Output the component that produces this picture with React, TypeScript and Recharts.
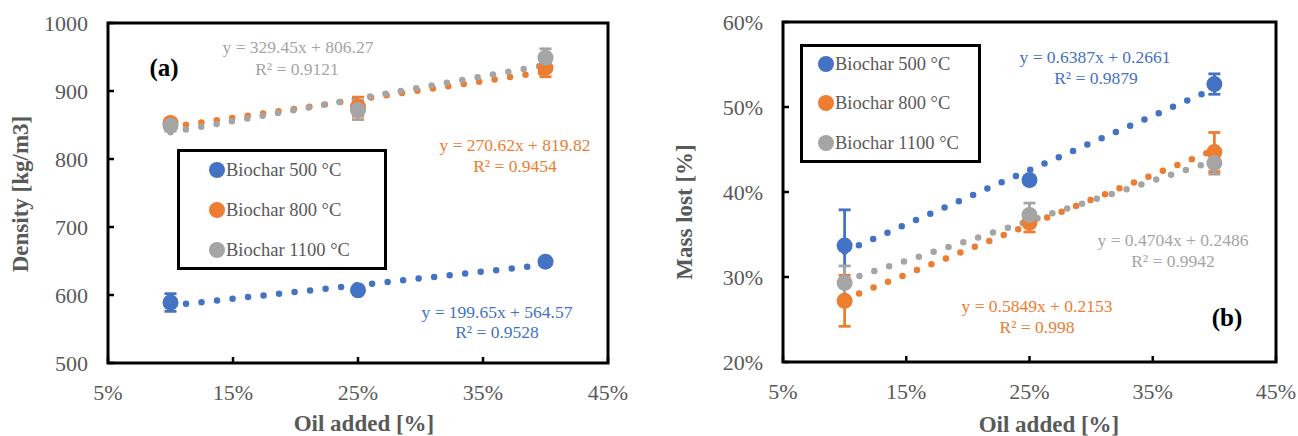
import React from 'react';
import {
  ComposedChart, Scatter, Line, XAxis, YAxis, ErrorBar, ReferenceArea, Legend,
} from 'recharts';

const BLUE = '#4472C4';
const ORANGE = '#ED7D31';
const GRAY = '#A5A5A5';
const TEXT = '#595959';
const FONT = '"Liberation Serif", "Times New Roman", serif';

// ---------- shared ----------
const xTicks = [5, 15, 25, 35, 45];
const seriesNames = ['Biochar 500 °C', 'Biochar 800 °C', 'Biochar 1100 °C'];
const seriesColors = [BLUE, ORANGE, GRAY];

// ---------- panel (a): density ----------
const densityTicks = [500, 600, 700, 800, 900, 1000];
const density500 = [
  { x: 10, y: 589, e: 13 },
  { x: 25, y: 607, e: 3 },
  { x: 40, y: 649, e: 3 },
];
const density800 = [
  { x: 10, y: 853, e: 4 },
  { x: 25, y: 877, e: 14 },
  { x: 40, y: 934, e: 13 },
];
const density1100 = [
  { x: 10, y: 849, e: 8 },
  { x: 25, y: 872, e: 14 },
  { x: 40, y: 949, e: 13 },
];
const densityTrend500 = [{ x: 10, y: 584.5 }, { x: 40, y: 644.4 }];
const densityTrend800 = [{ x: 10, y: 846.9 }, { x: 40, y: 928.1 }];
const densityTrend1100 = [{ x: 10, y: 839.2 }, { x: 40, y: 938.1 }];

// ---------- panel (b): mass lost ----------
const massTicks = [20, 30, 40, 50, 60];
const mass500 = [
  { x: 10, y: 33.7, e: 4.2 },
  { x: 25, y: 41.4, e: 0.5 },
  { x: 40, y: 52.7, e: 1.2 },
];
const mass800 = [
  { x: 10, y: 27.2, e: 3.0 },
  { x: 25, y: 36.4, e: 1.1 },
  { x: 40, y: 44.7, e: 2.3 },
];
const mass1100 = [
  { x: 10, y: 29.3, e: 2.0 },
  { x: 25, y: 37.3, e: 1.4 },
  { x: 40, y: 43.4, e: 1.3 },
];
const massTrend500 = [{ x: 10, y: 33.0 }, { x: 40, y: 52.16 }];
const massTrend800 = [{ x: 10, y: 27.38 }, { x: 40, y: 44.93 }];
const massTrend1100 = [{ x: 10, y: 29.56 }, { x: 40, y: 43.68 }];

const XTick = (props: any) => {
  const { x, y, payload } = props;
  return (
    <g>
      <line x1={x} x2={x} y1={y} y2={y - 6} stroke="#000" strokeWidth={2.5} />
      <text x={x} y={y + 37} textAnchor="middle" fill={TEXT} fontSize={22} fontFamily={FONT}>
        {payload.value}%
      </text>
    </g>
  );
};

const makeYTick = (suffix: string) => (props: any) => {
  const { x, y, payload } = props;
  return (
    <g>
      <line x1={x} x2={x + 6} y1={y} y2={y} stroke="#000" strokeWidth={2.5} />
      <text x={x - 20} y={y + 7.5} textAnchor="end" fill={TEXT} fontSize={22} fontFamily={FONT}>
        {payload.value}{suffix}
      </text>
    </g>
  );
};

const marker = (color: string) => (p: any) => (
  <circle cx={p.cx} cy={p.cy} r={8} fill={color} />
);

const LegendBox = ({ w, h, cx, tx, rows }: { w: number; h: number; cx: number; tx: number; rows: number[] }) => (
  <div
    style={{
      position: 'relative', width: w, height: h, border: '3px solid #000',
      boxSizing: 'border-box', background: '#fff', fontFamily: FONT,
    }}
  >
    {seriesNames.map((n, i) => (
      <div key={n}>
        <div
          style={{
            position: 'absolute', left: cx - 3 - 8, top: rows[i] - 3 - 8, width: 16, height: 16,
            borderRadius: 8, background: seriesColors[i],
          }}
        />
        <div
          style={{
            position: 'absolute', left: tx - 3, top: rows[i] - 3 - 12, height: 24, lineHeight: '24px',
            fontSize: 18.5, color: TEXT, whiteSpace: 'nowrap',
          }}
        >
          {n}
        </div>
      </div>
    ))}
  </div>
);

function trendLine(data: any[], color: string, key: string) {
  return (
    <Line
      key={key}
      data={data}
      dataKey="y"
      type="linear"
      stroke={color}
      strokeWidth={6.5}
      strokeDasharray="0 15.6"
      strokeLinecap="round"
      dot={false}
      activeDot={false}
      legendType="none"
      isAnimationActive={false}
    />
  );
}

function scatter(data: any[], color: string, key: string) {
  return (
    <Scatter key={key} data={data} dataKey="y" fill={color} shape={marker(color)} isAnimationActive={false}>
      <ErrorBar dataKey="e" direction="y" width={6} strokeWidth={2.8} stroke={color} />
    </Scatter>
  );
}

const PanelA = () => (
  <ComposedChart width={649} height={436} margin={{ top: 23, right: 41, bottom: 0, left: 0 }}>
    <XAxis
      dataKey="x" type="number" domain={[5, 45]} ticks={xTicks} height={73}
      axisLine={false} tickLine={false} tickSize={0} tickMargin={0} tick={<XTick />} interval={0}
      allowDataOverflow
    />
    <YAxis
      dataKey="y" type="number" domain={[500, 1000]} ticks={densityTicks} width={108}
      axisLine={false} tickLine={false} tickSize={0} tickMargin={0} tick={makeYTick('')} interval={0}
      allowDataOverflow
    />
    {trendLine(densityTrend500, BLUE, 't1')}
    {trendLine(densityTrend800, ORANGE, 't2')}
    {trendLine(densityTrend1100, GRAY, 't3')}
    {scatter(density500, BLUE, 's1')}
    {scatter(density800, ORANGE, 's2')}
    {scatter(density1100, GRAY, 's3')}
    <ReferenceArea x1={5} x2={45} y1={500} y2={1000} fill="none" fillOpacity={0} stroke="#000" strokeWidth={3} ifOverflow="visible" />
    <Legend
      layout="vertical" align="center" verticalAlign="middle"
      wrapperStyle={{ position: 'absolute', left: 177, top: 149, width: 210, height: 121 }}
      content={() => <LegendBox w={210} h={121} cx={40} tx={49} rows={[21, 61, 101]} />}
    />
    <g fontFamily={FONT}>
      <text x={298} y={53} textAnchor="middle" fill={GRAY} fontSize={17.5}>y = 329.45x + 806.27</text>
      <text x={297} y={75} textAnchor="middle" fill={GRAY} fontSize={17.5}>R² = 0.9121</text>
      <text x={515} y={151} textAnchor="middle" fill={ORANGE} fontSize={17.5}>y = 270.62x + 819.82</text>
      <text x={515} y={172} textAnchor="middle" fill={ORANGE} fontSize={17.5}>R² = 0.9454</text>
      <text x={497} y={318} textAnchor="middle" fill={BLUE} fontSize={17.5}>y = 199.65x + 564.57</text>
      <text x={497} y={338} textAnchor="middle" fill={BLUE} fontSize={17.5}>R² = 0.9528</text>
      <text x={164} y={76} textAnchor="middle" fill="#000" fontSize={25} fontWeight="bold">(a)</text>
      <text x={364} y={431} textAnchor="middle" fill={TEXT} fontSize={23} fontWeight="bold">Oil added [%]</text>
      <text x={28} y={194} textAnchor="middle" fill={TEXT} fontSize={23} fontWeight="bold" transform="rotate(-90, 28, 194)">Density [kg/m3]</text>
    </g>
  </ComposedChart>
);

const PanelB = () => (
  <ComposedChart width={649} height={436} margin={{ top: 22, right: 22, bottom: 0, left: 0 }}>
    <XAxis
      dataKey="x" type="number" domain={[5, 45]} ticks={xTicks} height={74}
      axisLine={false} tickLine={false} tickSize={0} tickMargin={0} tick={<XTick />} interval={0}
      allowDataOverflow
    />
    <YAxis
      dataKey="y" type="number" domain={[20, 60]} ticks={massTicks} width={134}
      axisLine={false} tickLine={false} tickSize={0} tickMargin={0} tick={makeYTick('%')} interval={0}
      allowDataOverflow
    />
    {trendLine(massTrend500, BLUE, 't1')}
    {trendLine(massTrend800, ORANGE, 't2')}
    {trendLine(massTrend1100, GRAY, 't3')}
    {scatter(mass500, BLUE, 's1')}
    {scatter(mass800, ORANGE, 's2')}
    {scatter(mass1100, GRAY, 's3')}
    <ReferenceArea x1={5} x2={45} y1={20} y2={60} fill="none" fillOpacity={0} stroke="#000" strokeWidth={3} ifOverflow="visible" />
    <Legend
      layout="vertical" align="center" verticalAlign="middle"
      wrapperStyle={{ position: 'absolute', left: 151, top: 44, width: 181, height: 119 }}
      content={() => <LegendBox w={181} h={119} cx={26} tx={35} rows={[20, 59, 99]} />}
    />
    <g fontFamily={FONT}>
      <text x={446} y={63} textAnchor="middle" fill={BLUE} fontSize={17.5}>y = 0.6387x + 0.2661</text>
      <text x={447} y={84} textAnchor="middle" fill={BLUE} fontSize={17.5}>R² = 0.9879</text>
      <text x={524} y={246} textAnchor="middle" fill={GRAY} fontSize={17.5}>y = 0.4704x + 0.2486</text>
      <text x={524} y={267} textAnchor="middle" fill={GRAY} fontSize={17.5}>R² = 0.9942</text>
      <text x={388} y={312} textAnchor="middle" fill={ORANGE} fontSize={17.5}>y = 0.5849x + 0.2153</text>
      <text x={388} y={333} textAnchor="middle" fill={ORANGE} fontSize={17.5}>R² = 0.998</text>
      <text x={578} y={326} textAnchor="middle" fill="#000" fontSize={25} fontWeight="bold">(b)</text>
      <text x={400} y={432} textAnchor="middle" fill={TEXT} fontSize={23} fontWeight="bold">Oil added [%]</text>
      <text x={43} y={212} textAnchor="middle" fill={TEXT} fontSize={23} fontWeight="bold" transform="rotate(-90, 43, 212)">Mass lost [%]</text>
    </g>
  </ComposedChart>
);

export default function App() {
  return (
    <div style={{ position: 'absolute', left: 0, top: 0, width: 1298, height: 436, background: '#fff', display: 'flex' }}>
      <div style={{ width: 649, height: 436, position: 'relative' }}>
        <PanelA />
      </div>
      <div style={{ width: 649, height: 436, position: 'relative' }}>
        <PanelB />
      </div>
    </div>
  );
}
